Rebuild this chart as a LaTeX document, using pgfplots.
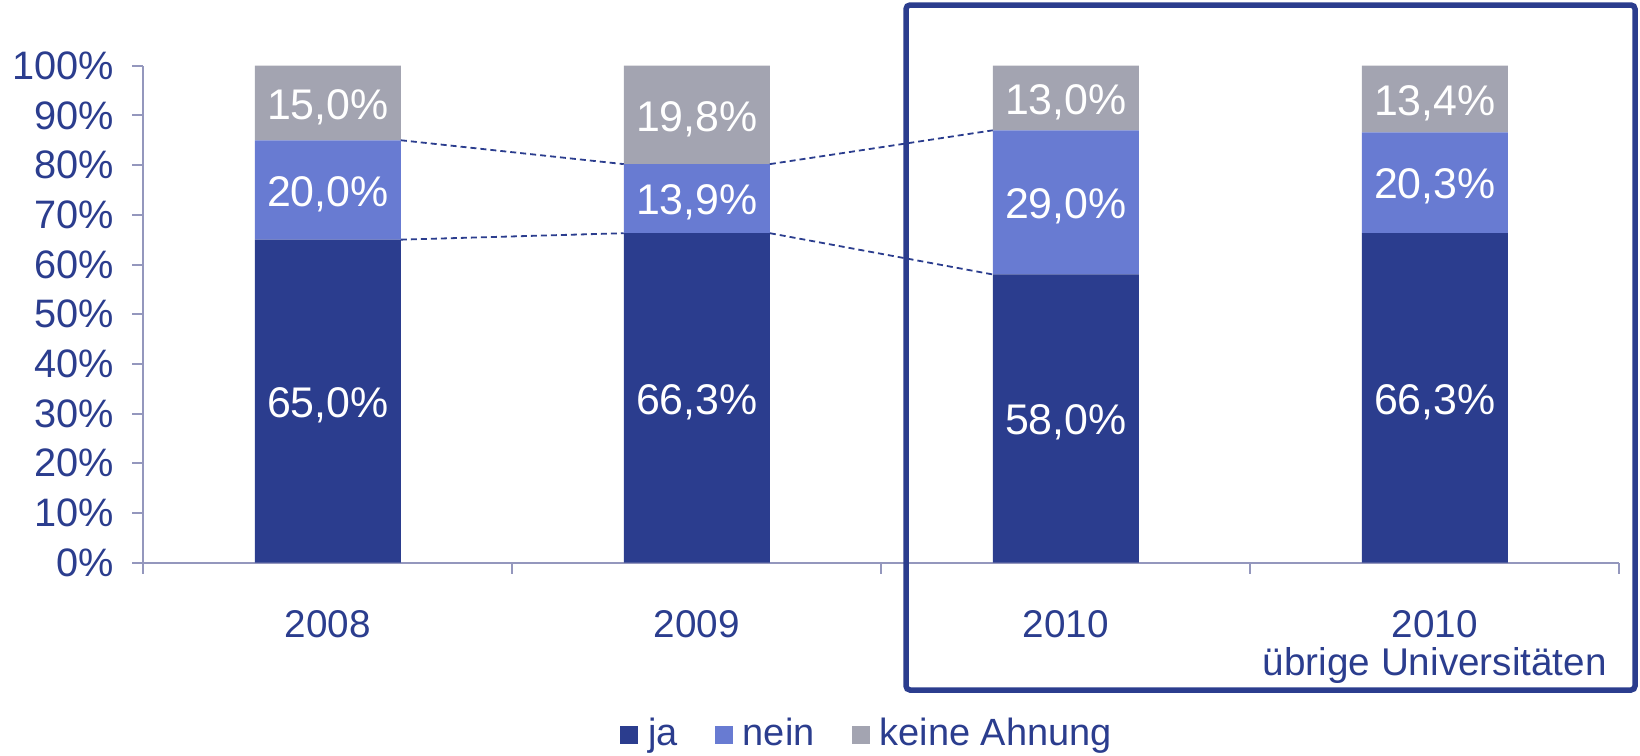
\documentclass[border=0pt]{standalone}
\usepackage{pgfplots}
\pgfplotsset{compat=1.18}
\usepackage{fontspec}
\setmainfont{Liberation Sans}
\definecolor{ja}{RGB}{43,61,142}
\definecolor{nein}{RGB}{104,123,210}
\definecolor{keine}{RGB}{163,164,177}
\definecolor{txt}{RGB}{43,61,142}
\definecolor{axl}{RGB}{148,151,189}
\newcommand{\yf}{\fontsize{11.3pt}{12pt}\selectfont}
\newcommand{\xf}{\fontsize{11pt}{10.9pt}\selectfont}
\newcommand{\lf}{\fontsize{10.8pt}{12pt}\selectfont}
\newcommand{\barf}{\fontsize{12.2pt}{13pt}\selectfont}
\begin{document}
\begin{tikzpicture}
\path[use as bounding box] (-14.33mm,-19.23mm) rectangle (149.67mm,56.27mm);
\begin{axis}[
  at={(0,0)}, anchor=south west,
  width=147.6mm, height=49.7mm, scale only axis,
  ybar stacked, bar width=14.6mm,
  xmin=-0.5, xmax=3.5, ymin=0, ymax=100,
  axis x line*=bottom, axis y line*=left,
  axis line style={axl, line width=0.2mm},
  tick style={axl, line width=0.2mm},
  tick align=outside, major tick length=1.1mm,
  ytick={0,10,...,100},
  yticklabels={0\%,10\%,20\%,30\%,40\%,50\%,60\%,70\%,80\%,90\%,100\%},
  xtick={-0.5,0.5,1.5,2.5,3.5},
  xticklabels={},
  extra x ticks={0,1,2,3},
  extra x tick labels={2008,2009,2010,{2010\\übrige Universitäten}},
  extra x tick style={major tick length=0pt, xticklabel style={align=center, anchor=north, yshift=-3.5mm, font=\xf}},
  yticklabel style={font=\yf, xshift=-0.6mm},
  tick label style={text=txt},
  clip=false,
  legend columns=3,
  legend style={at={(0.492,-0.346)}, anchor=center, draw=none, fill=none, font=\lf, text=txt,
    /tikz/every even column/.append style={column sep=3.0mm},
    /tikz/every odd column/.append style={column sep=0.3mm},
    inner sep=0pt},
  legend image code/.code={\draw[#1,draw=none] (0mm,-0.9mm) rectangle (1.8mm,0.9mm);},
]
\addplot[fill=ja, draw=none] coordinates {(0,65.0) (1,66.3) (2,58.0) (3,66.3)};
\addlegendentry{ja}
\addplot[fill=nein, draw=none] coordinates {(0,20.0) (1,13.9) (2,29.0) (3,20.3)};
\addlegendentry{nein}
\addplot[fill=keine, draw=none] coordinates {(0,15.0) (1,19.8) (2,13.0) (3,13.4)};
\addlegendentry{keine Ahnung}
\end{axis}
\begin{axis}[
  at={(0,0)}, anchor=south west,
  width=147.6mm, height=49.7mm, scale only axis,
  xmin=-0.5, xmax=3.5, ymin=0, ymax=100,
  hide axis, clip=false,
]
% connector lines
\addplot[sharp plot, no markers, ja, line width=0.18mm, dash pattern=on 0.6mm off 0.4mm] coordinates {(0.198,65.0) (0.802,66.3)};
\addplot[sharp plot, no markers, ja, line width=0.18mm, dash pattern=on 0.6mm off 0.4mm] coordinates {(0.198,85.0) (0.802,80.2)};
\addplot[sharp plot, no markers, ja, line width=0.18mm, dash pattern=on 0.6mm off 0.4mm] coordinates {(1.198,80.2) (1.802,87.0)};
\addplot[sharp plot, no markers, ja, line width=0.18mm, dash pattern=on 0.6mm off 0.4mm] coordinates {(1.198,66.3) (1.802,58.0)};
% value labels
\addplot[only marks, mark=none,
  nodes near coords, point meta=explicit symbolic,
  nodes near coords style={anchor=center, text=white, font=\barf, yshift=-0.4mm}]
  coordinates {
  (0,32.5) [65,0\%] (1,33.15) [66,3\%] (2,29.0) [58,0\%] (3,33.15) [66,3\%]
  (0,75.0) [20,0\%] (1,73.25) [13,9\%] (2,72.5) [29,0\%] (3,76.45) [20,3\%]
  (0,92.5) [15,0\%] (1,90.1) [19,8\%] (2,93.5) [13,0\%] (3,93.3) [13,4\%]
  };
\end{axis}
\draw[ja, line width=0.55mm, rounded corners=0.4mm] (76.27mm,-12.73mm) rectangle (149.17mm,55.77mm);
\end{tikzpicture}
\end{document}
